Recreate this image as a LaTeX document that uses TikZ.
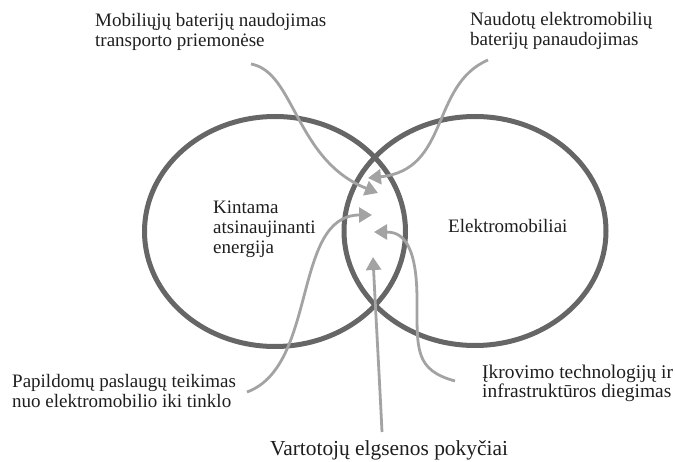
\documentclass[tikz,border=0pt]{standalone}
\usepackage{fontspec}
\setmainfont{Liberation Serif}
\usetikzlibrary{arrows.meta}
\definecolor{ringgray}{RGB}{102,102,102}
\definecolor{arrowgray}{RGB}{163,163,163}
\definecolor{inkgray}{RGB}{30,30,30}
\begin{document}
\begin{tikzpicture}[x=1pt,y=-1pt,
  ring/.style={draw=ringgray,line width=5pt},
  flow/.style={draw=arrowgray,line width=2.8pt,
    -{Triangle[length=13pt,width=15pt]}},
  lbl/.style={inner sep=0pt,anchor=base west,align=left,text=inkgray,
    font=\fontsize{19}{20}\selectfont}]
\useasboundingbox (0,0) rectangle (675,462);

% two overlapping sets
\draw[ring] (275,231.5) ellipse [x radius=130.5, y radius=115];
\draw[ring] (475,231) ellipse [x radius=131, y radius=114.5];

% labels (base anchor sits on the last line)
\node[lbl] (kint) at (213,254) {Kintama\\atsinaujinanti\\energija};
\node[lbl] (elek) at (448,233) {Elektromobiliai};
\node[lbl] (mob)  at (95,47)   {Mobiliųjų baterijų naudojimas\\transporto priemonėse};
\node[lbl] (naud) at (470,46)  {Naudotų elektromobilių\\baterijų panaudojimas};
\node[lbl] (pap)  at (12,407)  {Papildomų paslaugų teikimas\\nuo elektromobilio iki tinklo};
\node[lbl,font=\fontsize{21.4}{22}\selectfont] (vart) at (270,455) {Vartotojų elgsenos pokyčiai};
\node[lbl,font=\fontsize{19.4}{20}\selectfont] (ikr) at (482,398) {Įkrovimo technologijų ir\\infrastruktūros diegimas};

% arrow ends
\coordinate (mobS) at (251,64);
\coordinate (mobT) at (378,193);
\coordinate (naudS) at (488,60);
\coordinate (naudT) at (368,178);
\coordinate (papS) at (247,392);
\coordinate (papT) at (372,215);
\coordinate (vartS) at (382,432);
\coordinate (vartT) at (373,257);
\coordinate (ikrS) at (455,381);
\coordinate (ikrM) at (417,300);
\coordinate (ikrT) at (374,232);

% influences pointing into the overlap
\draw[flow] (mobS) .. controls (295,72) and (295,160) .. (mobT);
\draw[flow] (naudS) .. controls (430,85) and (450,170) .. (naudT);
\draw[flow] (papS) .. controls (318,366) and (292,215) .. (papT);
\draw[flow] (vartS) .. controls (379,370) and (375,300) .. (vartT);
\draw[flow] (ikrS) .. controls (415,370) and (417,350) .. (ikrM)
  .. controls (417,240) and (400,232) .. (ikrT);
\end{tikzpicture}
\end{document}
